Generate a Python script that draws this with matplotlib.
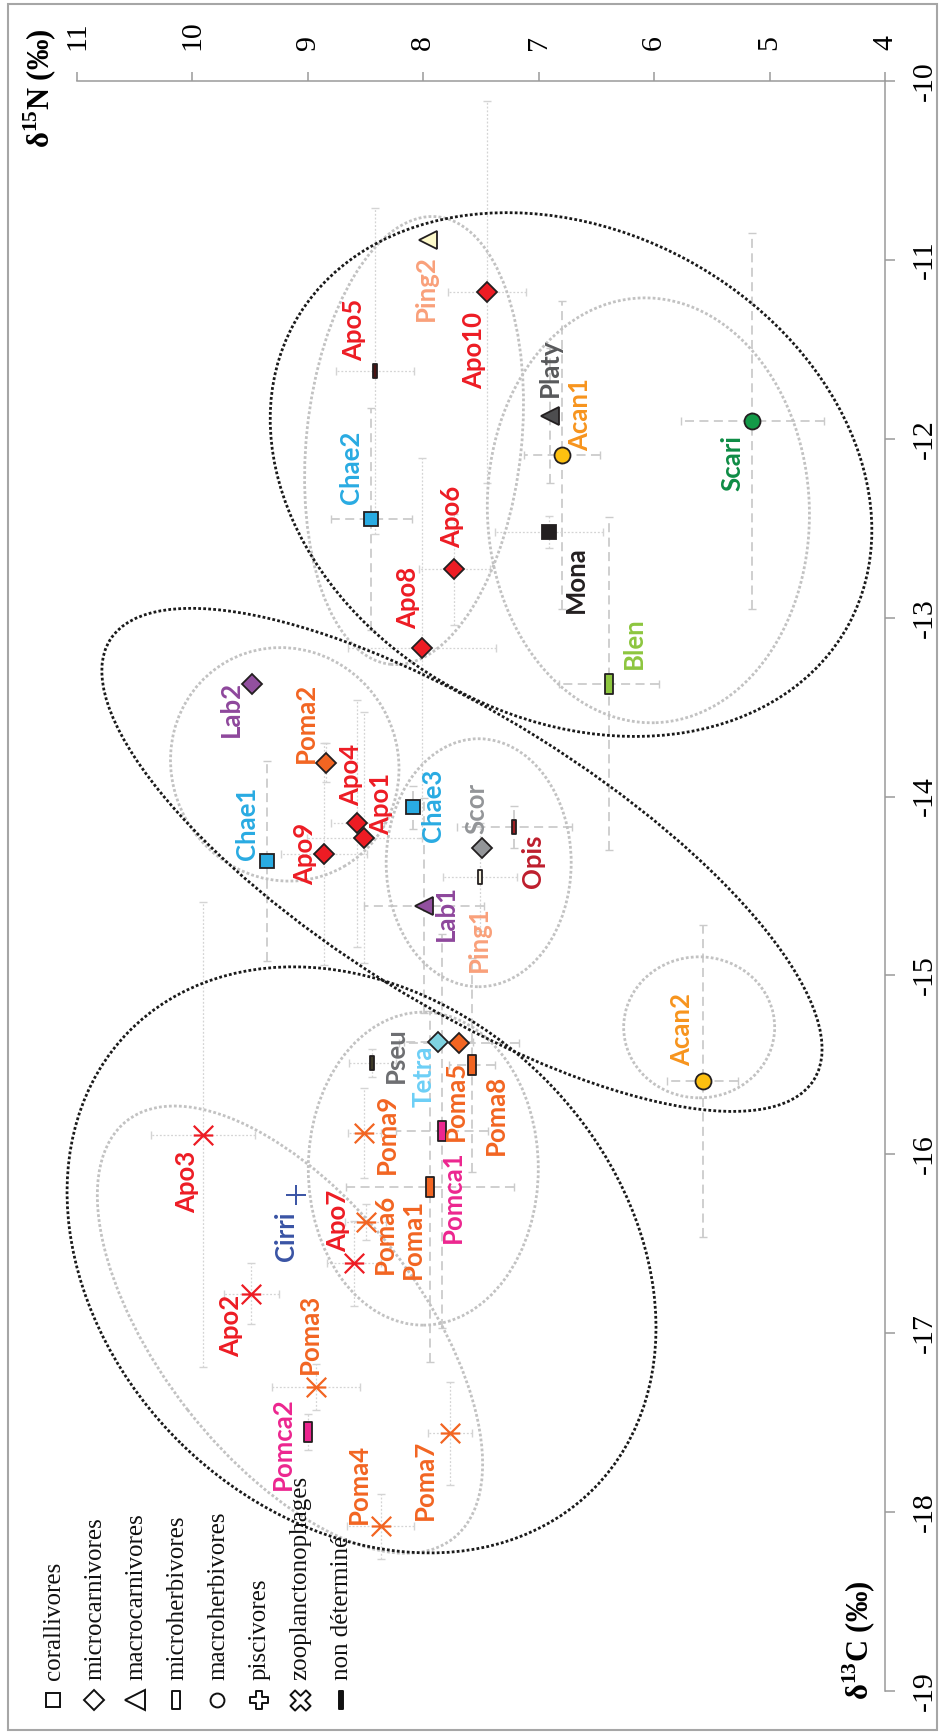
import matplotlib
matplotlib.use("Agg")
import matplotlib.pyplot as plt
from matplotlib.patches import Ellipse, Rectangle
from matplotlib.path import Path
from matplotlib.lines import Line2D
from matplotlib.transforms import ScaledTranslation
from matplotlib.ticker import FormatStrFormatter

plt.rcParams["font.family"] = ["Liberation Serif", "DejaVu Sans"]
plt.rcParams["axes.unicode_minus"] = False
plt.rcParams["mathtext.fontset"] = "custom"
plt.rcParams["mathtext.rm"] = "Liberation Serif:bold"
plt.rcParams["mathtext.bf"] = "Liberation Serif:bold"

# ---------------------------------------------------------------- data
species = ["Ping2", "Apo10", "Apo5", "Platy", "Acan1", "Scari", "Chae2", "Mona",
           "Apo6", "Apo8", "Blen", "Lab2", "Poma2", "Apo4", "Apo1", "Apo9",
           "Chae1", "Chae3", "Scor", "Opis", "Ping1", "Lab1", "Tetra", "Poma5",
           "Poma8", "Pseu", "Pomca1", "Poma9", "Apo3", "Cirri", "Poma1", "Poma6",
           "Apo7", "Apo2", "Poma3", "Pomca2", "Poma7", "Poma4", "Acan2"]

groups = ["macrocarn", "microcarn", "nd", "macrocarn", "macroherb", "macroherb",
          "coral", "coral", "microcarn", "microcarn", "microherb", "microcarn",
          "microcarn", "microcarn", "microcarn", "microcarn", "coral", "coral",
          "microcarn", "nd", "nd", "macrocarn", "microcarn", "microcarn",
          "microherb", "nd", "microherb", "zoo", "zoo", "pisc", "microherb", "zoo",
          "zoo", "zoo", "zoo", "microherb", "zoo", "zoo", "macroherb"]

d15n = [7.96, 7.45, 8.42, 6.90, 6.80, 5.15, 8.45, 6.91, 7.73, 8.01,
        6.39, 9.48, 8.84, 8.57, 8.51, 8.86, 9.35, 8.09, 7.49, 7.21,
        7.51, 7.99, 7.87, 7.69, 7.58, 8.44, 7.84, 8.51, 9.91, 9.10,
        7.94, 8.50, 8.60, 9.49, 8.93, 9.00, 7.77, 8.37, 5.58]

d13c = [-10.89, -11.18, -11.62, -11.87, -12.09, -11.90, -12.45, -12.52, -12.73, -13.17,
        -13.37, -13.37, -13.81, -14.15, -14.23, -14.32, -14.36, -14.06, -14.29, -14.17,
        -14.45, -14.61, -15.37, -15.38, -15.50, -15.49, -15.87, -15.88, -15.89, -16.23,
        -16.18, -16.38, -16.61, -16.78, -17.30, -17.55, -17.56, -18.08, -15.59]

sd15n = [0.00, 0.34, 0.34, 0.00, 0.33, 0.62, 0.35, 0.47, 0.31, 0.64,
         0.43, 0.00, 0.00, 0.23, 0.50, 0.37, 0.00, 0.00, 0.00, 0.50,
         0.32, 0.52, 0.30, 0.52, 0.20, 0.20, 0.40, 0.14, 0.45, 0.00,
         0.73, 0.18, 0.23, 0.24, 0.38, 0.00, 0.19, 0.29, 0.31]

sd13c = [0.00, 1.07, 0.91, 0.38, 0.86, 1.05, 0.62, 0.09, 0.31, 1.06,
         0.93, 0.00, 0.11, 0.69, 0.70, 0.62, 0.56, 0.12, 0.00, 0.12,
         0.30, 0.60, 0.00, 0.00, 0.60, 0.08, 1.10, 0.25, 1.30, 0.00,
         0.98, 0.10, 0.24, 0.17, 0.13, 0.10, 0.29, 0.18, 0.87]

legend_labels = ["corallivores", "microcarnivores", "macrocarnivores",
                 "microherbivores", "macroherbivores", "piscivores",
                 "zooplanctonophages", "non déterminé"]
legend_groups = ["coral", "microcarn", "macrocarn", "microherb",
                 "macroherb", "pisc", "zoo", "nd"]

# ellipses: centre (δ15N, δ13C), width / height in inches, angle in degrees
ellipse_centres_black = [(6.72, -12.20), (7.665, -14.354), (8.535, -16.59)]
ellipse_shapes_black = [(6.31, 4.88, -28.4), (8.30, 2.88, -32), (6.52, 5.15, -44.4)]
ellipse_centres_grey = [(8.08, -12.01), (6.05, -12.40), (9.20, -13.82), (7.52, -14.37),
                        (5.61, -15.29), (8.00, -16.08), (9.155, -16.98)]
ellipse_shapes_grey = [(2.15, 4.50, -6), (3.22, 4.25, 2), (2.26, 2.36, 30), (1.85, 2.48, 0),
                       (1.51, 1.41, 0), (2.30, 3.13, 0), (5.30, 2.60, -52)]

xticks = [11, 10, 9, 8, 7, 6, 5, 4]
yticks = [-10, -11, -12, -13, -14, -15, -16, -17, -18, -19]

# ---------------------------------------------------------------- styles
face = {
    "Ping2": "#FFFBCC", "Apo5": "#4a1414", "Platy": "#4D4D4F", "Acan1": "#FDC010",
    "Acan2": "#FDC010", "Scari": "#139A48", "Chae1": "#29ABE2", "Chae2": "#29ABE2",
    "Chae3": "#29ABE2", "Mona": "#231F20", "Blen": "#8DC63F", "Lab1": "#92509F",
    "Lab2": "#92509F", "Scor": "#939598", "Opis": "#9E1F24", "Ping1": "#F3EEDC",
    "Tetra": "#7FD3E1", "Pseu": "#3D3A28", "Pomca1": "#EC268F", "Pomca2": "#EC268F",
    "Cirri": "#3953A4",
}
label_col = {
    "Apo": "#ED1C24", "Poma": "#F26522", "Pomca": "#EC268F", "Chae": "#29ABE2",
    "Lab": "#8E479C", "Ping": "#F9A07A", "Platy": "#58595B", "Acan": "#F7941D",
    "Scari": "#0E8C45", "Mona": "#231F20", "Blen": "#8DC63F", "Scor": "#939598",
    "Opis": "#BE1E2D", "Tetra": "#6DCFF6", "Pseu": "#6D6E71", "Cirri": "#3953A4",
}


def prefix(name):
    return name.rstrip("0123456789")


def face_of(name):
    if name in face:
        return face[name]
    return {"Apo": "#ED1C24", "Poma": "#F26522"}[prefix(name)]


# label offsets from the marker, in pixels (right, down)
label_off = {
    "Ping2": (-2, 48), "Apo10": (-13, 58), "Apo5": (-21, -41), "Platy": (0, -48),
    "Acan1": (18, -40), "Scari": (-20, 42), "Chae2": (-20, -52), "Apo6": (-2, -52),
    "Mona": (27, 48), "Apo8": (-14, -50), "Blen": (25, -41), "Lab2": (-22, 25),
    "Poma2": (-20, -40), "Apo4": (-6, -48), "Apo1": (17, -34), "Apo9": (-19, 0),
    "Chae1": (-20, -38), "Chae3": (20, -2), "Scor": (-6, -40), "Opis": (19, 34),
    "Lab1": (21, 7), "Ping1": (-1, 62), "Pseu": (23, -8), "Tetra": (-15, 35),
    "Poma5": (-3, 57), "Poma8": (24, 50), "Pomca1": (11, 66), "Poma9": (22, 1),
    "Apo3": (-16, 47), "Cirri": (-10, 41), "Poma1": (-17, 52), "Poma6": (19, 12),
    "Apo7": (-16, -43), "Apo2": (-20, 32), "Poma3": (-6, -53), "Pomca2": (-25, 12),
    "Poma7": (-25, 46), "Poma4": (-22, -42), "Acan2": (-20, -51),
}

dashed_bars = {"Scari", "Acan1", "Acan2", "Chae1", "Chae2", "Chae3", "Blen", "Lab1",
               "Pomca1", "Opis", "Poma8", "Platy", "Poma1", "Tetra", "Poma5"}

bar_path = Path([(-0.2, -0.5), (0.2, -0.5), (0.2, 0.5), (-0.2, 0.5), (-0.2, -0.5)], closed=True)
dash_path = Path([(-0.13, -0.5), (0.13, -0.5), (0.13, 0.5), (-0.13, 0.5), (-0.13, -0.5)], closed=True)
star_path = Path([(-1, -1), (1, 1), (-1, 1), (1, -1), (-1, 0), (1, 0)],
                 [Path.MOVETO, Path.LINETO, Path.MOVETO, Path.LINETO, Path.MOVETO, Path.LINETO])
t = 0.3
cross_verts = [(-t, 1), (t, 1), (t, t), (1, t), (1, -t), (t, -t), (t, -1), (-t, -1),
               (-t, -t), (-1, -t), (-1, t), (-t, t), (-t, 1)]
cross_path = Path(cross_verts, closed=True)
xcross_path = Path([((x - y) / 1.4142, (x + y) / 1.4142) for x, y in cross_verts], closed=True)

marker_style = {
    "coral": dict(marker="s", ms=10.5),
    "microcarn": dict(marker="D", ms=10.0),
    "macrocarn": dict(marker="<", ms=13.5),
    "microherb": dict(marker=bar_path, ms=14.5),
    "macroherb": dict(marker="o", ms=11.5),
    "pisc": dict(marker="+", ms=14.0),
    "zoo": dict(marker=star_path, ms=14.0),
    "nd": dict(marker=dash_path, ms=10.5),
}

# ---------------------------------------------------------------- figure
W, H = 941, 1736
fig = plt.figure(figsize=(W / 100, H / 100), dpi=100)
ax = fig.add_axes([77 / W, 1 - 1691 / H, (885 - 77) / W, (1691 - 81) / H])
ax.set_xlim(11, 4)
ax.set_ylim(-19, -10)

for s in ("left", "bottom"):
    ax.spines[s].set_visible(False)
for s in ("top", "right"):
    ax.spines[s].set_color("#9a9a9a")
    ax.spines[s].set_linewidth(1.1)

ax.xaxis.set_ticks_position("top")
ax.yaxis.set_ticks_position("right")
ax.set_xticks(xticks)
ax.set_yticks(yticks)
ax.xaxis.set_major_formatter(FormatStrFormatter("%d"))
ax.yaxis.set_major_formatter(FormatStrFormatter("%d"))
ax.tick_params(axis="x", direction="out", length=6.5, width=1.1, color="#9a9a9a",
               pad=15.5, labelsize=21.5, labelrotation=90)
ax.tick_params(axis="y", direction="out", length=7, width=1.1, color="#9a9a9a",
               pad=12, labelsize=21.5, labelrotation=90)
for tk in ax.yaxis.get_major_ticks():
    tk.label2.set_verticalalignment("center")

# grouping ellipses (allowed to spill past the axes edge)
for (cx, cy), (w, h, a) in zip(ellipse_centres_grey, ellipse_shapes_grey):
    tr = fig.dpi_scale_trans + ScaledTranslation(cx, cy, ax.transData)
    ax.add_patch(Ellipse((0, 0), w, h, angle=a, transform=tr, fill=False, clip_on=False,
                         ec="#c2c2c2", lw=2.0, ls=(0, (1, 0.8)), zorder=2))
for (cx, cy), (w, h, a) in zip(ellipse_centres_black, ellipse_shapes_black):
    tr = fig.dpi_scale_trans + ScaledTranslation(cx, cy, ax.transData)
    ax.add_patch(Ellipse((0, 0), w, h, angle=a, transform=tr, fill=False, clip_on=False,
                         ec="#1a1a1a", lw=2.0, ls=(0, (1, 0.8)), zorder=3))

# error bars
for name, x, y, ex, ey in zip(species, d15n, d13c, sd15n, sd13c):
    if ex == 0 and ey == 0:
        continue
    dashed = name in dashed_bars
    eb = ax.errorbar([x], [y], xerr=[ex] if ex else None, yerr=[ey] if ey else None,
                     fmt="none", ecolor="#cbcbcb" if dashed else "#d4d4d4",
                     elinewidth=1.3 if dashed else 0.9, capsize=3,
                     capthick=1.0, zorder=1)
    for lc in eb[2]:
        lc.set_linestyle((0, (5, 3)) if dashed else (0, (1.5, 1.5)))

# points
for name, g, x, y in zip(species, groups, d15n, d13c):
    st = marker_style[g]
    if g == "zoo":
        ax.plot([x], [y], linestyle="none", marker=st["marker"], ms=st["ms"],
                mfc="none", mec=face_of(name), mew=1.6, zorder=5)
    elif g == "pisc":
        ax.plot([x], [y], linestyle="none", marker="+", ms=st["ms"],
                mec=face_of(name), mew=1.4, zorder=5)
    else:
        ax.plot([x], [y], linestyle="none", marker=st["marker"], ms=st["ms"],
                mfc=face_of(name), mec="#231F20", mew=1.3, zorder=5)

# point labels
px2pt = 72 / fig.dpi
for name, x, y in zip(species, d15n, d13c):
    dx, dy = label_off[name]
    col = label_col.get(name, label_col.get(prefix(name)))
    ax.annotate(name, (x, y), xytext=(dx * px2pt, -dy * px2pt), textcoords="offset points",
                rotation=90, ha="center", va="center", fontsize=18.5,
                family=["Lato", "DejaVu Sans"], fontweight="bold", color=col, zorder=6)

# axis titles
fig.text(40 / W, 1 - 88 / H, r"δ$^{15}$N (‰)", rotation=90, ha="center", va="center",
         fontsize=22, fontweight="bold")
fig.text(859 / W, 1 - 1640 / H, r"δ$^{13}$C (‰)", rotation=90, ha="center", va="center",
         fontsize=22, fontweight="bold")

# legend: one column per trophic group, reading upward
legend_marker = {
    "coral": dict(marker="s", ms=10.0),
    "microcarn": dict(marker="D", ms=10.5),
    "macrocarn": dict(marker="<", ms=15.0),
    "microherb": dict(marker=Path([(-0.22, -0.5), (0.22, -0.5), (0.22, 0.5), (-0.22, 0.5),
                                   (-0.22, -0.5)], closed=True), ms=13.0),
    "macroherb": dict(marker="o", ms=10.0),
    "pisc": dict(marker=cross_path, ms=13.5),
    "zoo": dict(marker=xcross_path, ms=14.5),
    "nd": dict(marker=dash_path, ms=13.0),
}
for i, (lab, g) in enumerate(zip(legend_labels, legend_groups)):
    xc = (53 + 41.1 * i) / W
    st = legend_marker[g]
    filled = g == "nd"
    fig.add_artist(Line2D([xc], [1 - 1700 / H], transform=fig.transFigure, linestyle="none",
                          marker=st["marker"], ms=st["ms"],
                          mfc="#111111" if filled else "none", mec="#111111", mew=1.4))
    fig.text(xc + 1 / W, 1 - 1680 / H, lab, rotation=90, ha="center", va="bottom",
             fontsize=18, color="#111111")

# outer frame
fig.add_artist(Rectangle((8 / W, 1 - 1730 / H), (937 - 8) / W, (1730 - 4) / H,
                         transform=fig.transFigure, fill=False, ec="#a6a6a6", lw=1.5))

fig.savefig("out.png", dpi=100)
